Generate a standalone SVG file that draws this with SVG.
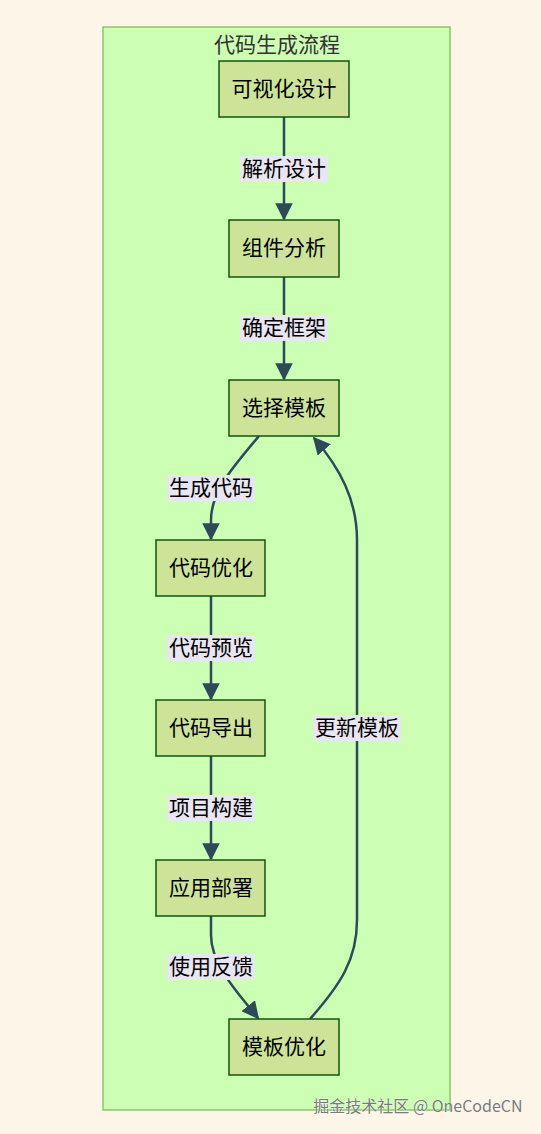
<svg xmlns="http://www.w3.org/2000/svg" width="541" height="1134" viewBox="0 0 541 1134">
<style>
.node rect{fill:#cde498;stroke:#13540c;stroke-width:1.5}
.node text{font-family:"Noto Sans CJK SC","Noto Sans",sans-serif;font-size:21px;fill:#000;text-anchor:middle;dominant-baseline:central}
.edge{fill:none;stroke:#2d4a5a;stroke-width:2.5}
.lbl rect{fill:#e8e6f0}
.lbl text{font-family:"Noto Sans CJK SC","Noto Sans",sans-serif;font-size:21px;fill:#000;text-anchor:middle;dominant-baseline:central}
</style>
<defs>
<marker id="arr" viewBox="0 0 10 10" refX="9" refY="5" markerWidth="7" markerHeight="7" markerUnits="strokeWidth" orient="auto">
<path d="M0,0 L10,5 L0,10 z" fill="#2d4a5a"/>
</marker>
</defs>
<rect x="0" y="0" width="541" height="1134" fill="#fdf5e8"/>
<g id="cluster">
<rect x="103" y="27" width="347" height="1083" fill="#ccffb4" stroke="#8cc46a" stroke-width="1.5"/>
<text x="277" y="43" font-family="'Noto Sans CJK SC','Noto Sans',sans-serif" font-size="21" fill="#333" text-anchor="middle" dominant-baseline="central">代码生成流程</text>
</g>
<g id="connectors">
<path class="edge" d="M284,117 L284,219" marker-end="url(#arr)"/>
<path class="edge" d="M284,277 L284,379" marker-end="url(#arr)"/>
<path class="edge" d="M259,436 C232,468 211,492 211,520 L211,539" marker-end="url(#arr)"/>
<path class="edge" d="M211,596 L211,699" marker-end="url(#arr)"/>
<path class="edge" d="M211,756 L211,859" marker-end="url(#arr)"/>
<path class="edge" d="M211,916 L211,935 C211,965 238,993 258,1018" marker-end="url(#arr)"/>
<path class="edge" d="M310,1019 C340,985 357,960 357,920 L357,540 C357,500 340,468 314,438" marker-end="url(#arr)"/>
<g class="lbl"><rect x="240" y="156" width="88" height="26"/><text x="284" y="167">解析设计</text></g>
<g class="lbl"><rect x="240" y="315" width="88" height="26"/><text x="284" y="326">确定框架</text></g>
<g class="lbl"><rect x="167" y="475" width="88" height="26"/><text x="211" y="486">生成代码</text></g>
<g class="lbl"><rect x="167" y="635" width="88" height="26"/><text x="211" y="646">代码预览</text></g>
<g class="lbl"><rect x="167" y="795" width="88" height="26"/><text x="211" y="806">项目构建</text></g>
<g class="lbl"><rect x="167" y="954" width="88" height="26"/><text x="211" y="965">使用反馈</text></g>
<g class="lbl"><rect x="313" y="715" width="88" height="26"/><text x="357" y="726">更新模板</text></g>
</g>
<g id="n1" class="node"><rect x="219" y="61" width="130" height="56"/><text x="284" y="87">可视化设计</text></g>
<g id="n2" class="node"><rect x="229" y="220" width="110" height="57"/><text x="284" y="246">组件分析</text></g>
<g id="n3" class="node"><rect x="229" y="380" width="110" height="56"/><text x="284" y="406">选择模板</text></g>
<g id="n4" class="node"><rect x="156" y="540" width="109" height="56"/><text x="211" y="566">代码优化</text></g>
<g id="n5" class="node"><rect x="156" y="700" width="109" height="56"/><text x="211" y="726">代码导出</text></g>
<g id="n6" class="node"><rect x="156" y="860" width="109" height="56"/><text x="211" y="886">应用部署</text></g>
<g id="n7" class="node"><rect x="229" y="1019" width="110" height="56"/><text x="284" y="1045">模板优化</text></g>
<text x="418" y="1105" font-family="'Noto Sans CJK SC','Noto Sans',sans-serif" font-size="16" fill="#7a7a7a" stroke="#ffffff" stroke-width="0.6" paint-order="stroke" text-anchor="middle" dominant-baseline="central">掘金技术社区 @ OneCodeCN</text>
</svg>
